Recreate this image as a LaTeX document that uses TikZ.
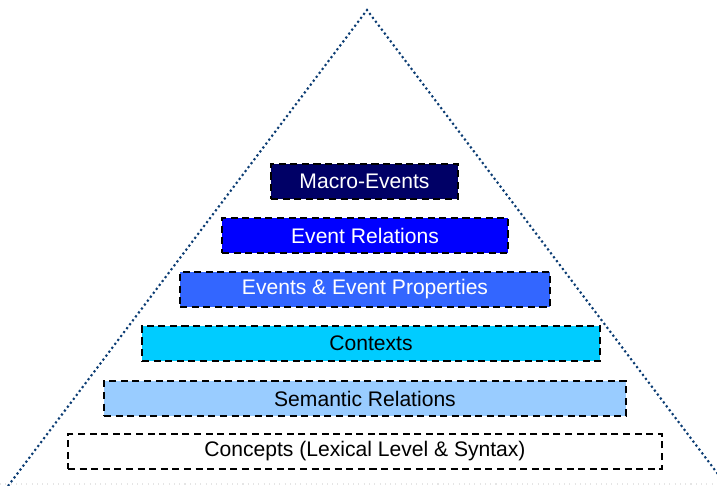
\documentclass[tikz,border=0pt]{standalone}
\usepackage{fontspec}
\setmainfont{Liberation Sans}
\usepackage{tikz}
\definecolor{Outline}{HTML}{0B3C73}
\definecolor{Navy}{HTML}{000066}
\definecolor{Pure}{HTML}{0000FF}
\definecolor{Royal}{HTML}{3366FF}
\definecolor{Sky}{HTML}{00CCFF}
\definecolor{Pale}{HTML}{99CCFF}

\begin{document}
\begin{tikzpicture}[x=0.02cm,y=-0.02cm,font=\fontsize{12}{14}\selectfont,
  layer/.style={draw=black,line width=1pt,dash pattern=on 4pt off 2.6pt,
    minimum height=0.7cm,inner sep=0pt}]
  \useasboundingbox (0,0) rectangle (717,485);
  % pyramid outline
  \coordinate (apex) at (367,10);
  \coordinate (baseL) at (5,490);
  \coordinate (baseR) at (730,490);
  \draw[Outline,line width=1.2pt,dash pattern=on 1.2pt off 1.6pt] (baseL) -- (apex) -- (baseR);
  \draw[black!10,line width=0.6pt,dash pattern=on 0.6pt off 2.4pt] (0,484) -- (717,484);
  % layers, top to bottom
  \foreach \n/\x/\y/\w/\c/\t/\lbl in {
      macro/364.5/181.5/187/Navy/white/Macro-Events,
      evrel/365/235.5/286/Pure/white/Event Relations,
      evprop/365/289.5/370/Royal/white/Events \& Event Properties,
      ctx/371/343.5/458/Sky/black/Contexts,
      semrel/365/398.5/522/Pale/black/Semantic Relations,
      concepts/365/451.5/594/white/black/Concepts (Lexical Level \& Syntax)}
    \node[layer,fill=\c,text=\t,minimum width=\w*0.02cm] (\n) at (\x,\y) {\lbl};
\end{tikzpicture}
\end{document}
